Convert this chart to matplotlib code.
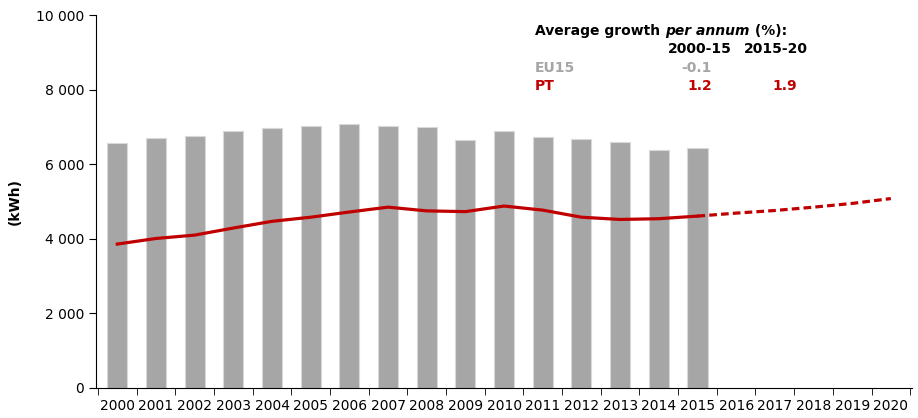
import matplotlib.pyplot as plt
import numpy as np

years = list(range(2000, 2021))
eu15 = [6560, 6710, 6770, 6890, 6970, 7020, 7070, 7020, 6990, 6650,
        6890, 6720, 6670, 6590, 6380, 6430]
pt = [3860, 4010, 4100, 4290, 4470, 4580, 4720, 4850, 4750, 4730,
      4880, 4770, 4580, 4520, 4540, 4610]
pt_proj = [4610, 4690, 4760, 4850, 4950, 5080]

red = '#c00000'
grey = '#a6a6a6'

fig = plt.figure(figsize=(9.18, 4.18), dpi=100)
ax = fig.add_axes([0.1046, 0.0718, 0.889, 0.892])

x = np.arange(len(years))
ax.bar(x[:len(eu15)], eu15, width=0.52, color=grey, edgecolor='#d9d9d9', linewidth=0.8, zorder=2)
ax.plot(x[:len(pt)], pt, color=red, lw=2.3, zorder=3)
ax.plot(x[len(pt) - 1:], pt_proj, color=red, lw=2.3, ls=(0, (2.4, 1.3)), zorder=3)

ax.set_xlim(-0.55, len(years) - 0.45)
ax.set_ylim(0, 10000)
ax.set_yticks(range(0, 10001, 2000))
ax.set_yticklabels(['0', '2 000', '4 000', '6 000', '8 000', '10 000'], fontsize=10)
ax.set_xticks(x)
ax.set_xticklabels([str(y) for y in years], fontsize=10)
ax.set_xticks(np.arange(-0.5, len(years), 1), minor=True)
ax.tick_params(axis='x', which='major', length=0, pad=8)
ax.tick_params(axis='x', which='minor', length=5, direction='out')
ax.tick_params(axis='y', length=5, direction='out')
for s in ['top', 'right']:
    ax.spines[s].set_visible(False)
ax.set_ylabel('(kWh)', fontsize=10, fontweight='bold')
ax.yaxis.set_label_coords(-0.091, 0.5)

# growth table
t1 = fig.text(535 / 918, 1 - 31 / 418, 'Average growth ', fontsize=10, fontweight='bold', va='center')
t2 = ax.annotate('per annum', xy=(1, 0), xycoords=t1, fontsize=10, fontweight='bold',
                 style='italic', va='bottom')
ax.annotate(' (%):', xy=(1, 0), xycoords=t2, fontsize=10, fontweight='bold', va='bottom')
fig.text(732 / 918, 1 - 49 / 418, '2000-15', fontsize=10, fontweight='bold', ha='right', va='center')
fig.text(808 / 918, 1 - 49 / 418, '2015-20', fontsize=10, fontweight='bold', ha='right', va='center')
fig.text(535 / 918, 1 - 68 / 418, 'EU15', fontsize=10, fontweight='bold', color=grey, va='center')
fig.text(712 / 918, 1 - 68 / 418, '-0.1', fontsize=10, fontweight='bold', color=grey, ha='right', va='center')
fig.text(535 / 918, 1 - 86 / 418, 'PT', fontsize=10, fontweight='bold', color=red, va='center')
fig.text(712 / 918, 1 - 86 / 418, '1.2', fontsize=10, fontweight='bold', color=red, ha='right', va='center')
fig.text(797 / 918, 1 - 86 / 418, '1.9', fontsize=10, fontweight='bold', color=red, ha='right', va='center')

fig.savefig('out.png', dpi=100)
